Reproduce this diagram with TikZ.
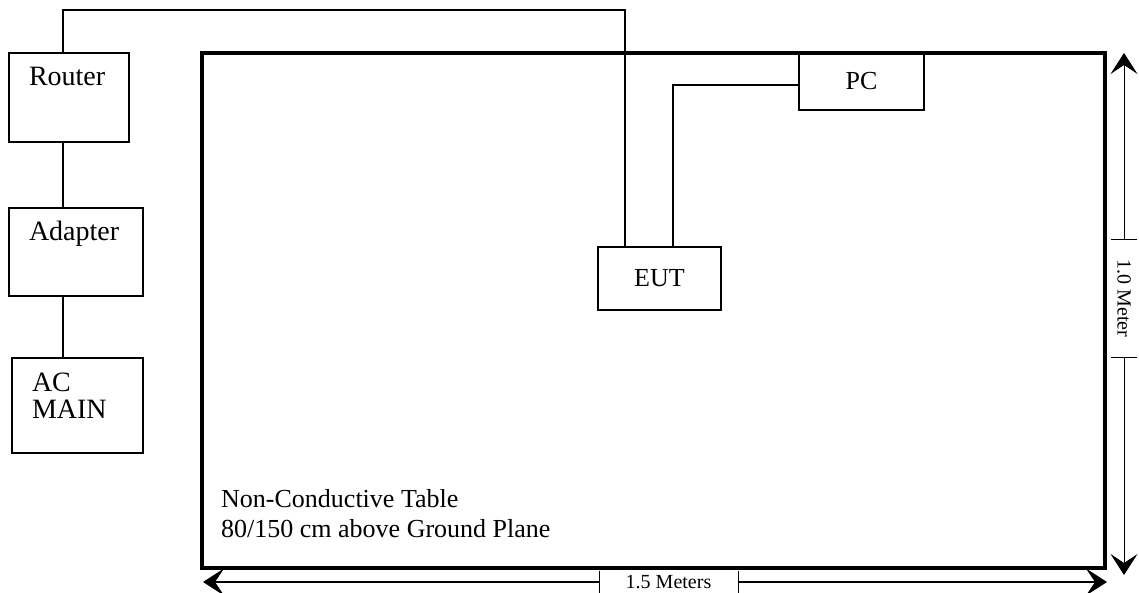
\documentclass[tikz,border=0pt]{standalone}
\usepackage{fontspec}
\setmainfont{Liberation Serif}
\usetikzlibrary{arrows.meta}

\begin{document}
\begin{tikzpicture}[x=1pt, y=-1pt, >={Stealth[length=21pt, width=27pt, inset=9pt]},
	unit/.style={draw, line width=1.5pt, anchor=north west, outer sep=0pt, inner xsep=20pt, inner ysep=14pt, text height=19pt, align=left, font=\fontsize{28}{27}\selectfont},
	dev/.style={draw, line width=1.5pt, outer sep=0pt, font=\fontsize{26}{30}\selectfont},
	cable/.style={line width=1.5pt},
	dim/.style={inner sep=0pt, outer sep=0pt, font=\fontsize{20}{24}\selectfont}]
	\useasboundingbox (0,0) rectangle (1139,593);
	% table and what stands on it
	\node[draw, line width=3.5pt, outer sep=0pt, anchor=north west, minimum width=903pt, minimum height=515pt] (table) at (202,53) {};
	\node[anchor=north west, align=left, inner sep=0pt, font=\fontsize{26}{30}\selectfont] (tabletext) at (221,489) {Non-Conductive Table\\80/150 cm above Ground Plane};
	\node[dev, minimum width=125pt, minimum height=58pt] (pc) at (861.5,81) {PC};
	\node[dev, minimum width=123pt, minimum height=63pt] (eut) at (659.5,278.5) {EUT};
	% units beside the table
	\node[unit, text width=80pt, text depth=42pt] (router) at (9,53) {Router};
	\node[unit, text width=94pt, text depth=41pt] (adapter) at (9,208) {Adapter};
	\node[unit, text width=91pt, text depth=48pt] (acmain) at (12,358) {AC\\MAIN};
	\draw[cable] ([xshift=54pt]router.south west) -- ([xshift=54pt]adapter.north west);
	\draw[cable] ([xshift=54pt]adapter.south west) -- ([xshift=51pt]acmain.north west);
	\draw[cable] ([xshift=54pt]router.north west) -- ++(0,-43) -| ([xshift=27pt]eut.north west);
	\draw[cable] ([yshift=-4pt]pc.west) -| ([xshift=75pt]eut.north west);
	% dimensions
	\node[dim, minimum width=139pt, minimum height=23pt] (wlabel) at (668.5,582) {1.5 Meters};
	\draw[line width=1pt] (wlabel.north west) -- (wlabel.south west) (wlabel.north east) -- (wlabel.south east);
	\coordinate (wleft) at (203,582); \coordinate (wright) at (1107,582);
	\draw[->, line width=1.5pt] (wlabel.west) -- (wleft);
	\draw[->, line width=1.5pt] (wlabel.east) -- (wright);
	\node[dim, rotate=-90, minimum width=117pt, minimum height=26pt] (hlabel) at (1124,298.5) {1.0 Meter};
	\draw[line width=1pt] (hlabel.north west) -- (hlabel.south west) (hlabel.north east) -- (hlabel.south east);
	\coordinate (htop) at (1124,53); \coordinate (hbot) at (1124,575);
	\draw[->, line width=1pt] (hlabel.west) -- (htop);
	\draw[->, line width=1pt] (hlabel.east) -- (hbot);
\end{tikzpicture}
\end{document}
